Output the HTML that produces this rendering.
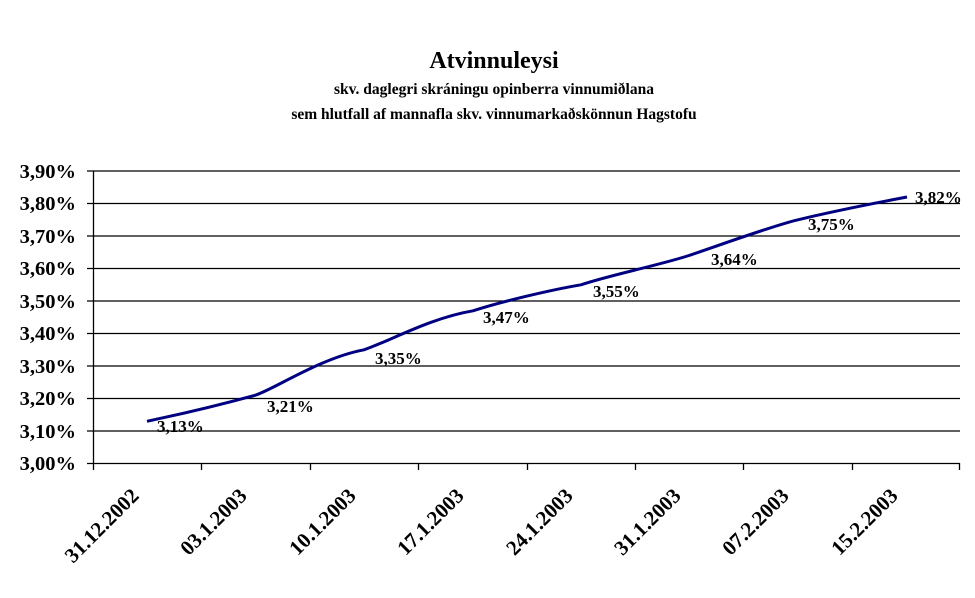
<!DOCTYPE html>
<html><head><meta charset="utf-8"><style>body{margin:0;background:#fff}svg{display:block}text{font-family:"Liberation Serif",serif;font-weight:bold;fill:#000}</style></head>
<body>
<svg width="975" height="598" viewBox="0 0 975 598">
<text x="494" y="68" font-size="24" text-anchor="middle">Atvinnuleysi</text>
<text x="494" y="94" font-size="15.5" text-anchor="middle">skv. daglegri skráningu opinberra vinnumiðlana</text>
<text x="494" y="119" font-size="15.5" text-anchor="middle">sem hlutfall af mannafla skv. vinnumarkaðskönnun Hagstofu</text>
<g stroke="#000" stroke-width="1.3">
<line x1="87" y1="171" x2="960" y2="171"/>
<line x1="87" y1="203.5" x2="960" y2="203.5"/>
<line x1="87" y1="236" x2="960" y2="236"/>
<line x1="87" y1="268.5" x2="960" y2="268.5"/>
<line x1="87" y1="301" x2="960" y2="301"/>
<line x1="87" y1="333.5" x2="960" y2="333.5"/>
<line x1="87" y1="366" x2="960" y2="366"/>
<line x1="87" y1="398.5" x2="960" y2="398.5"/>
<line x1="87" y1="431" x2="960" y2="431"/>
<line x1="87" y1="463.5" x2="960" y2="463.5"/>
<line x1="93.5" y1="171" x2="93.5" y2="470"/>
<line x1="201.5" y1="463" x2="201.5" y2="470"/>
<line x1="310.5" y1="463" x2="310.5" y2="470"/>
<line x1="418.5" y1="463" x2="418.5" y2="470"/>
<line x1="527.5" y1="463" x2="527.5" y2="470"/>
<line x1="635.5" y1="463" x2="635.5" y2="470"/>
<line x1="743.5" y1="463" x2="743.5" y2="470"/>
<line x1="852.5" y1="463" x2="852.5" y2="470"/>
<line x1="959.5" y1="463" x2="959.5" y2="470"/>
</g>
<g font-size="20.5" text-anchor="end">
<text x="76" y="178">3,90%</text><text x="76" y="210">3,80%</text><text x="76" y="243">3,70%</text>
<text x="76" y="275">3,60%</text><text x="76" y="308">3,50%</text><text x="76" y="340">3,40%</text>
<text x="76" y="373">3,30%</text><text x="76" y="405">3,20%</text><text x="76" y="438">3,10%</text>
<text x="76" y="470">3,00%</text>
</g>
<path d="M147,421.3 C165,417 190,413 255,395.3 C273,390 320,358 364,349.8 C390,341 430,318 473,310.8 C500,302 550,290 581,284.8 C610,275 660,265 689,255.5 C720,245 775,225 798,219.8 C830,212 870,204 907,197" fill="none" stroke="#000080" stroke-width="3"/>
<g font-size="17">
<text x="157" y="432">3,13%</text><text x="267" y="412">3,21%</text><text x="375" y="364">3,35%</text>
<text x="483" y="323">3,47%</text><text x="593" y="297">3,55%</text><text x="711" y="265">3,64%</text>
<text x="808" y="230">3,75%</text><text x="915" y="203">3,82%</text>
</g>
<g font-size="21" text-anchor="end">
<text transform="translate(140,497) rotate(-45)">31.12.2002</text>
<text transform="translate(248,497) rotate(-45)">03.1.2003</text>
<text transform="translate(357,497) rotate(-45)">10.1.2003</text>
<text transform="translate(465,497) rotate(-45)">17.1.2003</text>
<text transform="translate(574,497) rotate(-45)">24.1.2003</text>
<text transform="translate(682,497) rotate(-45)">31.1.2003</text>
<text transform="translate(790,497) rotate(-45)">07.2.2003</text>
<text transform="translate(899,497) rotate(-45)">15.2.2003</text>
</g>
</svg>
</body></html>
